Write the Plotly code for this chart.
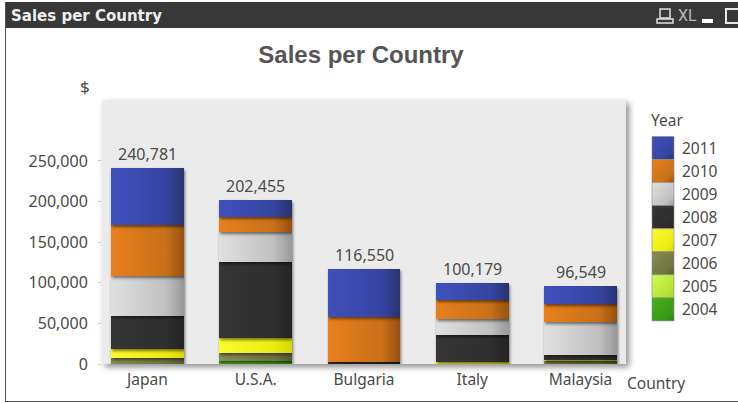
import json
import plotly.graph_objects as go

W, H = 738, 403
countries = ["Japan", "U.S.A.", "Bulgaria", "Italy", "Malaysia"]
years = ["2004", "2005", "2006", "2007", "2008", "2009", "2010", "2011"]
v2004 = [0, 3700, 0, 0, 0]
v2005 = [0, 0, 0, 0, 0]
v2006 = [7800, 9800, 0, 1000, 4000]
v2007 = [10200, 18900, 0, 1000, 1000]
v2008 = [40700, 92800, 2800, 34100, 5700]
v2009 = [49300, 37800, 0, 19700, 41400]
v2010 = [63000, 18400, 55500, 22600, 22200]
v2011 = [69781, 21055, 58250, 21779, 22249]
totals = [240781, 202455, 116550, 100179, 96549]
series = [v2004, v2005, v2006, v2007, v2008, v2009, v2010, v2011]
tick_vals = [0, 50000, 100000, 150000, 200000, 250000]

# base colour, light end, dark end of each year's gradient
base = ["#379a16", "#b4e038", "#6e7440", "#ecec14", "#2e2e2e", "#c0c0c0", "#c8701a", "#3644a0"]
light = ["#46b01c", "#d0fc54", "#888c54", "#fafa30", "#363636", "#e0e0e0", "#e8801c", "#3f50bc"]
dark = ["#2c8210", "#a8d824", "#565c30", "#d8d800", "#242424", "#989898", "#98500f", "#29336f"]

FONT = "Noto Sans"
TXT = "#4a4a4a"


def px(x):
    return x / W


def py(y):
    return 1 - y / H


def box(x0, y0, x1, y1, fill, line=None, lw=0):
    return dict(type="rect", xref="paper", yref="paper", x0=px(x0), x1=px(x1), y0=py(y0), y1=py(y1),
                fillcolor=fill, line=dict(color=line or fill, width=lw), layer="above")


fig = go.Figure()
for yr, vals, col in zip(years, series, base):
    fig.add_bar(name=yr, x=countries, y=vals, marker=dict(color=col, line=dict(width=0)),
                width=0.67, cliponaxis=False)

shapes = [
    box(5, 2, 738, 28, "#383838"),
    box(5, 2, 6, 402, "#555555"),
    box(5, 401, 738, 402, "#555555"),
    box(660, 9, 670, 18, "#383838", "#e0e0e0", 1.5),
    box(657, 19, 673, 23, "#383838", "#e0e0e0", 1.5),
    box(702, 19, 713, 23, "#ffffff"),
    box(726, 9, 739, 23, "#383838", "#e8e8e8", 2),
]
annots = [
    dict(text="<b>Sales per Country</b>", x=px(9), y=py(16), xanchor="left",
         font=dict(family="DejaVu Sans", size=15, color="#eeeeee")),
    dict(text="XL", x=px(687), y=py(15.5), font=dict(family="Roboto", size=16, color="#b8b8b8")),
    dict(text="$", x=px(85), y=py(86), font=dict(family=FONT, size=17, color=TXT)),
    dict(text="Country", x=px(656), y=py(383), font=dict(family=FONT, size=15.5, color=TXT)),
    dict(text="Year", x=px(649), y=py(120), xanchor="left", font=dict(family=FONT, size=15.5, color=TXT)),
]
# value labels above each stack
for c, t in zip(countries, totals):
    annots.append(dict(text=f"{t:,}", x=c, y=t, xref="x", yref="y", yshift=14,
                       font=dict(family=FONT, size=16, color=TXT)))
# legend column, newest year at the top
sw_top, sw_h = 136.5, 23.05
for i, k in enumerate(reversed(range(len(years)))):
    y0 = sw_top + i * sw_h
    shapes.append(box(652, y0, 674, y0 + sw_h, base[k], "#8a8a8a", 0.6))
    annots.append(dict(text=years[k], x=px(680), y=py(y0 + sw_h / 2 - 0.5), xanchor="left",
                       font=dict(family=FONT, size=15.5, color=TXT)))
for a in annots:
    a.setdefault("xref", "paper")
    a.setdefault("yref", "paper")
    a.update(showarrow=False, yanchor="middle", xanchor=a.get("xanchor", "center"))

fig.update_layout(
    width=W, height=H, barmode="stack", showlegend=False, bargap=0, autosize=False,
    margin=dict(l=0, r=0, t=0, b=0, pad=0), paper_bgcolor="#ffffff", plot_bgcolor="#ebebeb",
    title=dict(text="<b>Sales per Country</b>", x=px(361), y=py(55), xanchor="center", yanchor="middle",
               font=dict(family="Liberation Sans", size=24, color="#555555")),
    shapes=shapes, annotations=annots,
    xaxis=dict(domain=[px(102), px(626)], range=[-0.42, 4.42], showgrid=False, zeroline=False, automargin=False,
               showline=False, ticks="", ticklabelstandoff=4, tickfont=dict(family=FONT, size=15.5, color=TXT)),
    yaxis=dict(domain=[py(364), py(100)], range=[0, 325000], showgrid=False, zeroline=False, automargin=False,
               showline=False, tickvals=tick_vals, tickformat=",", ticks="outside", ticklen=3,
               ticklabelstandoff=7, tickcolor="#c8c8c8", tickfont=dict(family=FONT, size=16, color=TXT)),
)

grads = {}
for b, l, d in zip(base, light, dark):
    grads[b] = (l, d)
post = """
document.body.style.margin='0';
var G=%s;
function rgb(h){return 'rgb('+parseInt(h.substr(1,2),16)+', '+parseInt(h.substr(3,2),16)+', '+parseInt(h.substr(5,2),16)+')';}
var NS='http://www.w3.org/2000/svg';
var s=document.createElementNS(NS,'svg');s.setAttribute('width','0');s.setAttribute('height','0');s.style.position='absolute';
var defs=document.createElementNS(NS,'defs');s.appendChild(defs);document.body.insertBefore(s,document.body.firstChild);
var map={},i=0;
Object.keys(G).forEach(function(k){i++;
 [['h',1,0],['d',1,1]].forEach(function(v){
  var g=document.createElementNS(NS,'linearGradient');g.setAttribute('id',v[0]+i);
  g.setAttribute('x1','0');g.setAttribute('y1','0');g.setAttribute('x2',v[1]);g.setAttribute('y2',v[2]);
  [[0,G[k][0]],[0.75,k],[1,G[k][1]]].forEach(function(p){var t=document.createElementNS(NS,'stop');
   t.setAttribute('offset',p[0]);t.setAttribute('stop-color',p[1]);g.appendChild(t);});
  defs.appendChild(g);});
 map[rgb(k)]=i;});
document.querySelectorAll('.bars .point path').forEach(function(p){
 var n=map[p.style.fill];if(n){p.style.fill='url(#h'+n+')';p.style.filter='drop-shadow(1px 2px 1.5px rgba(0,0,0,0.5))';}});
document.querySelectorAll('.shapelayer path').forEach(function(p){
 var n=map[p.style.fill];if(n){p.style.fill='url(#d'+n+')';}});
document.querySelectorAll('.bglayer rect').forEach(function(r){r.style.filter='drop-shadow(3px 3px 3px rgba(0,0,0,0.45))';});
""" % json.dumps(grads)
fig.write_html("out.html", post_script=post, config=dict(displayModeBar=False))
